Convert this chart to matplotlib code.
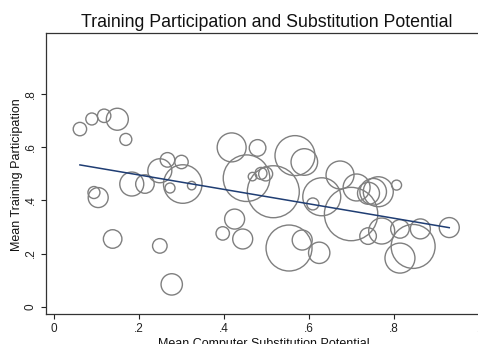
import numpy as np
import matplotlib
matplotlib.use("Agg")
import matplotlib.pyplot as plt

plt.rcParams['font.family'] = ['Liberation Sans', 'DejaVu Sans']

# group means: computer substitution potential vs. training participation
subst = [0.061, 0.089, 0.118, 0.149, 0.169, 0.183, 0.214, 0.249, 0.267, 0.300,
         0.303, 0.273, 0.324, 0.094, 0.104, 0.138, 0.249, 0.277, 0.397, 0.425,
         0.418, 0.479, 0.453, 0.467, 0.487, 0.498, 0.516, 0.567, 0.589, 0.444,
         0.553, 0.584, 0.624, 0.609, 0.630, 0.673, 0.699, 0.712, 0.740, 0.751,
         0.763, 0.806, 0.771, 0.739, 0.814, 0.862, 0.845, 0.814, 0.930]
train = [0.669, 0.707, 0.719, 0.706, 0.630, 0.462, 0.462, 0.512, 0.553, 0.545,
         0.462, 0.447, 0.456, 0.430, 0.411, 0.255, 0.229, 0.084, 0.276, 0.330,
         0.600, 0.598, 0.484, 0.490, 0.502, 0.500, 0.433, 0.569, 0.545, 0.255,
         0.221, 0.251, 0.203, 0.387, 0.414, 0.496, 0.349, 0.449, 0.427, 0.433,
         0.433, 0.458, 0.285, 0.266, 0.293, 0.293, 0.227, 0.183, 0.298]
# cell sizes (frequency weights)
weight = [45, 36, 45, 121, 36, 144, 86, 144, 53, 45,
          372, 25, 18, 36, 100, 86, 53, 114, 45, 100,
          210, 69, 543, 18, 36, 49, 676, 400, 177, 100,
          529, 100, 114, 36, 361, 196, 713, 182, 121, 177,
          225, 25, 169, 69, 86, 100, 484, 225, 100]

# weighted linear fit: intercept, slope
fit_b0, fit_b1 = 0.5506, -0.272

x = np.array(subst)
y = np.array(train)
w = np.array(weight)

fig = plt.figure(figsize=(4.78, 3.44), dpi=100)
ax = fig.add_axes([46 / 478, 30 / 344, 441 / 478, 280.7 / 344])

ax.scatter(x, y, s=w * 2.07, facecolors='none', edgecolors='#7f7f7f',
           linewidths=1.0, zorder=2)
xf = np.array([x.min(), x.max()])
ax.plot(xf, fit_b0 + fit_b1 * xf, color='#1f3d73', lw=1.1, zorder=3)

ax.set_xlim(-0.0188, 1.0188)
ax.set_ylim(-0.0275, 1.0297)

ax.set_xticks([0, 0.2, 0.4, 0.6, 0.8, 1.0])
ax.set_xticklabels(['0', '.2', '.4', '.6', '.8', '1'])
ax.set_yticks([0, 0.2, 0.4, 0.6, 0.8])
ax.set_yticklabels(['0', '.2', '.4', '.6', '.8'], rotation=90, va='center')
ax.tick_params(direction='out', length=3.5, width=0.8, labelsize=8.5,
               colors='#222222', pad=3)

for sp in ax.spines.values():
    sp.set_color('#333333')
    sp.set_linewidth(0.9)
ax.spines['right'].set_visible(False)

ax.set_title('Training Participation and Substitution Potential',
             fontsize=12.8, pad=4.5, color='#111111')
ax.set_xlabel('Mean Computer Substitution Potential', fontsize=9, color='#111111')
ax.xaxis.set_label_coords(0.493, -0.0855)
ax.set_ylabel('Mean Training Participation', fontsize=9, color='#111111')
ax.yaxis.set_label_coords(-0.052, 0.495)

fig.savefig('out.png', dpi=100)
